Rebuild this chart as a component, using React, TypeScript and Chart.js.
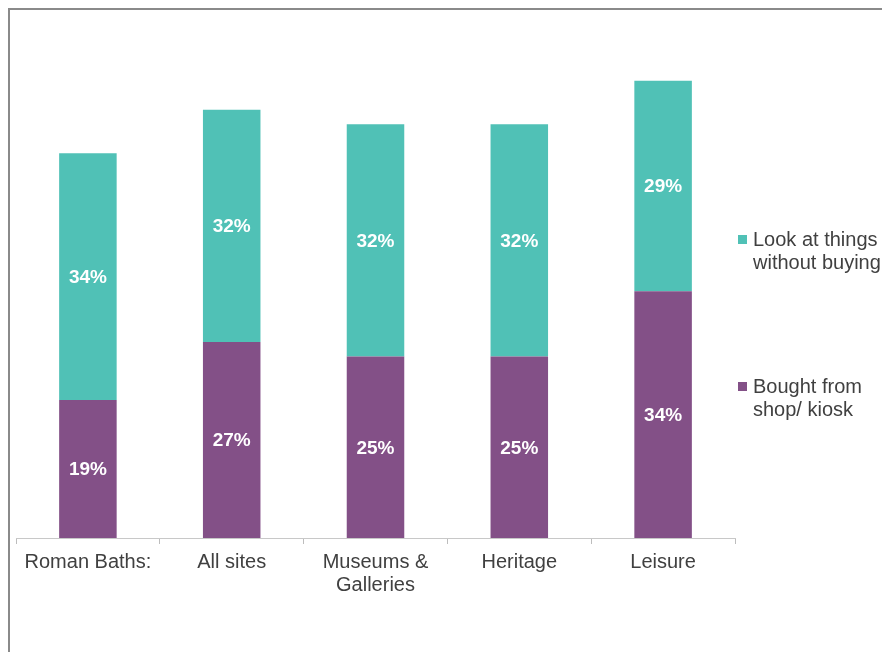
import React, { useEffect, useRef } from "react";
import { Chart, registerables } from "chart.js";

Chart.register(...registerables);

const categories: (string | string[])[] = ["Roman Baths:", "All sites", ["Museums &", "Galleries"], "Heritage", "Leisure"];
const boughtValues = [19, 27, 25, 25, 34];
const lookValues = [34, 32, 32, 32, 29];
const seriesNames = [["Look at things", "without buying"], ["Bought from", "shop/ kiosk"]];

const TEAL = "#50C1B6";
const PURPLE = "#835087";
const FONT = "'Liberation Sans', Arial, sans-serif";

export default function App() {
  const ref = useRef<HTMLCanvasElement>(null);
  useEffect(() => {
    if (!ref.current) return;
    const labelPlugin = {
      id: "segLabels",
      afterDatasetsDraw(chart: any) {
        const ctx = chart.ctx;
        ctx.save();
        ctx.fillStyle = "#ffffff";
        ctx.font = `bold 19px ${FONT}`;
        ctx.textAlign = "center";
        ctx.textBaseline = "middle";
        chart.data.datasets.forEach((ds: any, di: number) => {
          const meta = chart.getDatasetMeta(di);
          meta.data.forEach((el: any, i: number) => {
            const v = ds.data[i];
            ctx.fillText(`${v}%`, el.x, (el.y + el.base) / 2 + 1);
          });
        });
        ctx.restore();
      },
    };
    const legendPlugin = {
      id: "sideLegend",
      afterDraw(chart: any) {
        const ctx = chart.ctx;
        const x = chart.chartArea.right + 3;
        const items = [
          { color: TEAL, lines: seriesNames[0], y: 230 },
          { color: PURPLE, lines: seriesNames[1], y: 377 },
        ];
        ctx.save();
        ctx.font = `20px ${FONT}`;
        ctx.textBaseline = "middle";
        ctx.textAlign = "left";
        items.forEach((it) => {
          ctx.fillStyle = it.color;
          ctx.fillRect(x, it.y - 5, 9, 9);
          ctx.fillStyle = "#404040";
          it.lines.forEach((ln: string, k: number) => {
            ctx.fillText(ln, x + 15, it.y + k * 23);
          });
        });
        ctx.restore();
      },
    };
    const chart = new Chart(ref.current, {
      type: "bar",
      data: {
        labels: categories,
        datasets: [
          { label: "Bought from shop/ kiosk", data: boughtValues, backgroundColor: PURPLE, barPercentage: 0.4, categoryPercentage: 1 },
          { label: "Look at things without buying", data: lookValues, backgroundColor: TEAL, barPercentage: 0.4, categoryPercentage: 1 },
        ],
      },
      options: {
        animation: false,
        responsive: false,
        maintainAspectRatio: false,
        layout: { padding: { left: 6, right: 147, top: 20, bottom: 0 } },
        plugins: { legend: { display: false }, tooltip: { enabled: false } },
        scales: {
          x: {
            stacked: true,
            offset: true,
            grid: { offset: true, drawOnChartArea: false, drawTicks: true, tickLength: 6, color: "#bdbdbd" },
            border: { display: true, color: "#c8c8c8", width: 1 },
            ticks: { color: "#404040", font: { size: 20, family: FONT, lineHeight: 1.15 }, padding: 7, maxRotation: 0, autoSkip: false },
            afterFit: (scale: any) => { scale.height = 114; },
          },
          y: { stacked: true, display: false, min: 0, max: 70 },
        },
      },
      plugins: [labelPlugin, legendPlugin],
    });
    return () => chart.destroy();
  }, []);
  return (
    <div style={{ position: "fixed", left: 8, top: 8, width: 874, height: 644, boxSizing: "border-box", borderLeft: "2px solid #8a8a8a", borderTop: "2px solid #8a8a8a", background: "#fff", overflow: "hidden" }}>
      <canvas ref={ref} width={872} height={642} style={{ display: "block", width: 872, height: 642 }} />
    </div>
  );
}
